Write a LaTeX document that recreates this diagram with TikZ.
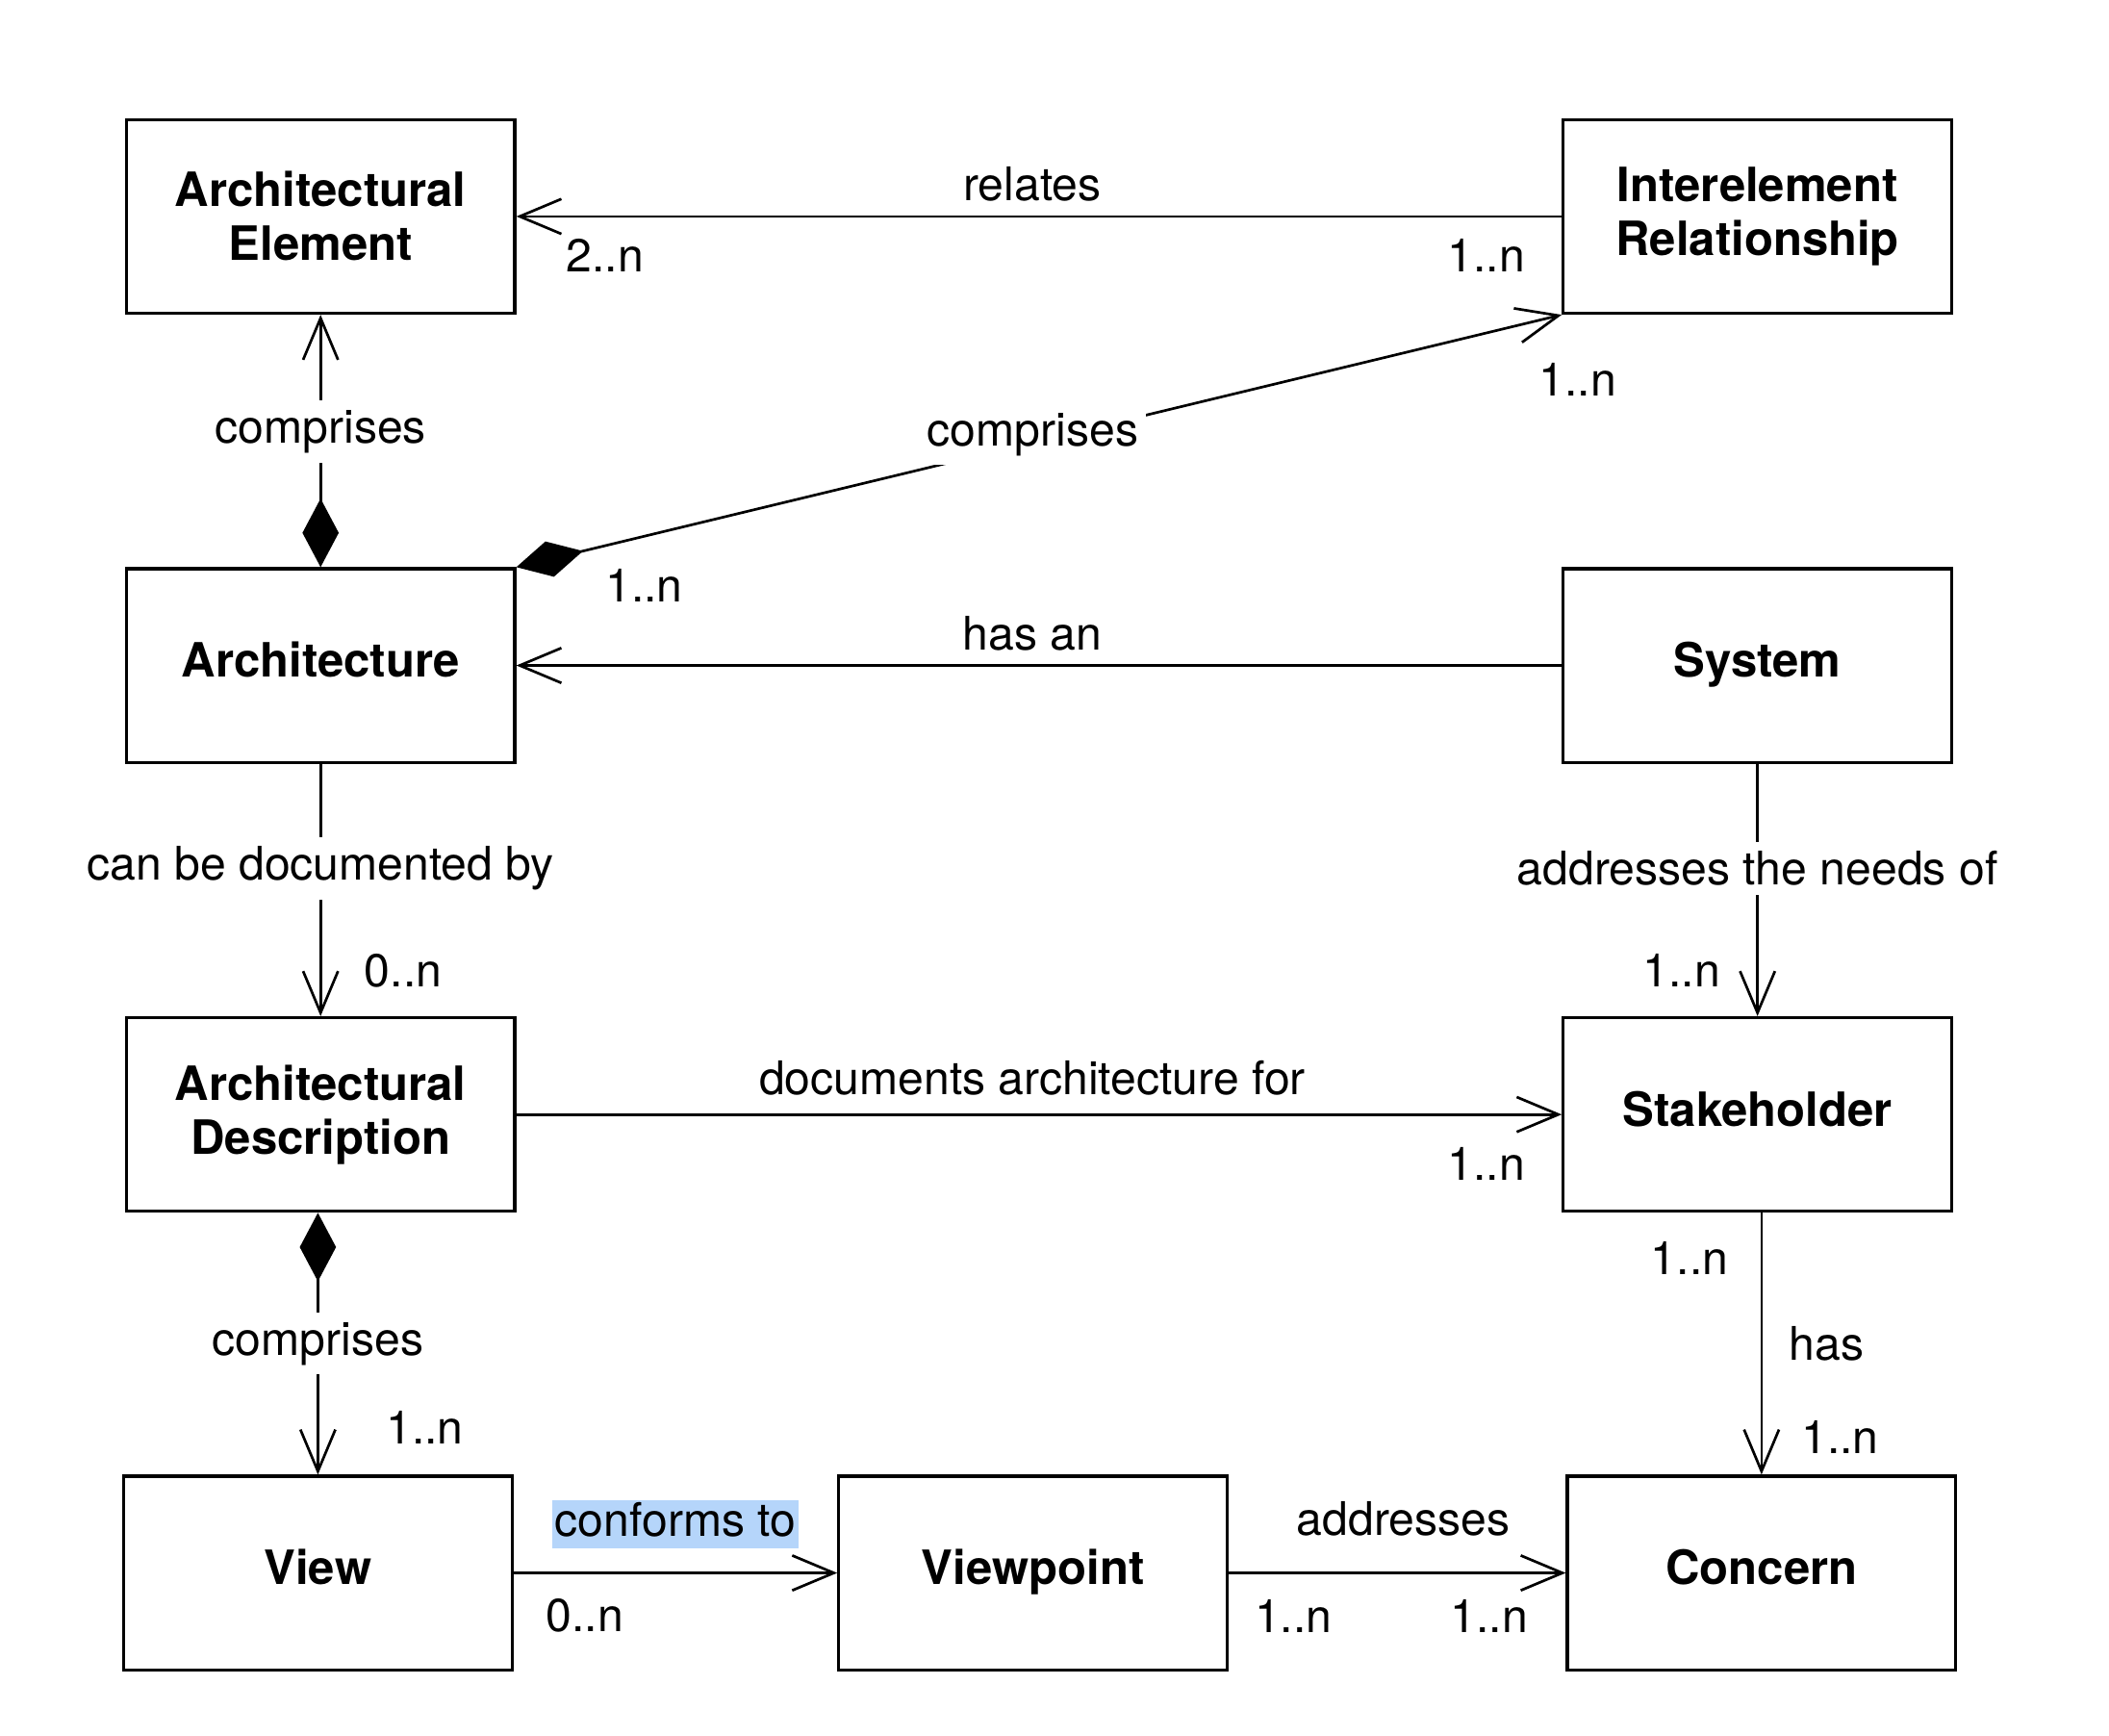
\documentclass[tikz,border=0pt]{standalone}
\usepackage{fontspec}
\setmainfont{TeX Gyre Heros}
\usetikzlibrary{arrows.meta,positioning}
\definecolor{selectBlue}{RGB}{181,213,250}
\tikzstyle{box} = [draw, line width=0.65pt, minimum width=2.89cm, minimum height=1.44cm, align=center, font=\fontsize{10}{11.4}\selectfont\bfseries]
\tikzstyle{oneline} = [text height=0.72em, text depth=0.22em]
\tikzstyle{assoc} = [draw, line width=0.55pt, arrows={-Straight Barb[length=3.1mm,width=2.6mm]}]
\tikzstyle{compose} = [draw, line width=0.55pt, arrows={Diamond[length=5.1mm,width=2.7mm]-Straight Barb[length=3.1mm,width=2.6mm]}]
\tikzstyle{role} = [font=\fontsize{9.8}{11.4}\selectfont, inner sep=1.5pt]
\tikzstyle{cut} = [role, fill=white, inner ysep=2pt]

\begin{document}
\begin{tikzpicture}[line join=miter]
    \useasboundingbox (0,0) rectangle (15.69,-12.91);

    % classes
    \node[box] (elementNode) at (2.385,-1.61) {Architectural\\Element};
    \node[box] (relationNode) at (13.075,-1.61) {Interelement\\Relationship};
    \node[box, oneline] (architectureNode) at (2.385,-4.95) {Architecture};
    \node[box, oneline] (systemNode) at (13.075,-4.95) {System};
    \node[box] (descriptionNode) at (2.385,-8.29) {Architectural\\Description};
    \node[box, oneline] (stakeholderNode) at (13.075,-8.29) {Stakeholder};
    \node[box, oneline] (viewNode) at (2.365,-11.70) {View};
    \node[box, oneline] (viewpointNode) at (7.685,-11.70) {Viewpoint};
    \node[box, oneline] (concernNode) at (13.105,-11.70) {Concern};

    % top row
    \draw[assoc] (relationNode.west) -- (elementNode.east)
        node[role, midway, xshift=-0.05cm, yshift=0.24cm] {relates}
        node[role, at start, xshift=-0.56cm, yshift=-0.29cm] {1..n}
        node[role, at end, xshift=0.66cm, yshift=-0.29cm] {2..n};

    \draw[compose] (architectureNode.north) -- (elementNode.south)
        node[cut, midway, yshift=0.07cm] {comprises};

    \draw[compose] (architectureNode.north east) -- (relationNode.south west)
        node[cut, pos=0.494, yshift=0.06cm] {comprises}
        node[role, at start, xshift=0.95cm, yshift=-0.14cm] {1..n}
        node[role, at end, xshift=0.12cm, yshift=-0.48cm] {1..n};

    % middle rows
    \draw[assoc] (systemNode.west) -- (architectureNode.east)
        node[role, midway, xshift=-0.05cm, yshift=0.24cm] {has an};

    \draw[assoc] (architectureNode.south) -- (descriptionNode.north)
        node[cut, midway, yshift=0.16cm] {can be documented by}
        node[role, at end, xshift=0.615cm, yshift=0.34cm] {0..n};

    \draw[assoc] (systemNode.south) -- (stakeholderNode.north)
        node[cut, midway, yshift=0.16cm] {addresses the needs of}
        node[role, at end, xshift=-0.565cm, yshift=0.34cm] {1..n};

    \draw[assoc] (descriptionNode.east) -- (stakeholderNode.west)
        node[role, midway, xshift=-0.05cm, yshift=0.27cm] {documents architecture for}
        node[role, at end, xshift=-0.56cm, yshift=-0.37cm] {1..n};

    \draw[compose] (viewNode.north |- descriptionNode.south) -- (viewNode.north)
        node[cut, midway, yshift=0.0cm] {comprises}
        node[role, at end, xshift=0.795cm, yshift=0.35cm] {1..n};

    \draw[assoc] (concernNode.north |- stakeholderNode.south) -- (concernNode.north)
        node[role, at start, xshift=-0.535cm, yshift=-0.34cm] {1..n}
        node[role, midway, xshift=0.485cm] {has}
        node[role, at end, xshift=0.585cm, yshift=0.28cm] {1..n};

    % bottom row
    \draw[assoc] (viewNode.east) -- (viewpointNode.west)
        node[role, midway, yshift=0.362cm, fill=selectBlue, inner sep=0pt, inner xsep=0.5pt, text height=0.76em, text depth=0.24em] {conforms to}
        node[role, at start, xshift=0.53cm, yshift=-0.32cm] {0..n};

    \draw[assoc] (viewpointNode.east) -- (concernNode.west)
        node[role, midway, xshift=0.045cm, yshift=0.40cm] {addresses}
        node[role, at start, xshift=0.48cm, yshift=-0.32cm] {1..n}
        node[role, at end, xshift=-0.57cm, yshift=-0.32cm] {1..n};
\end{tikzpicture}
\end{document}
